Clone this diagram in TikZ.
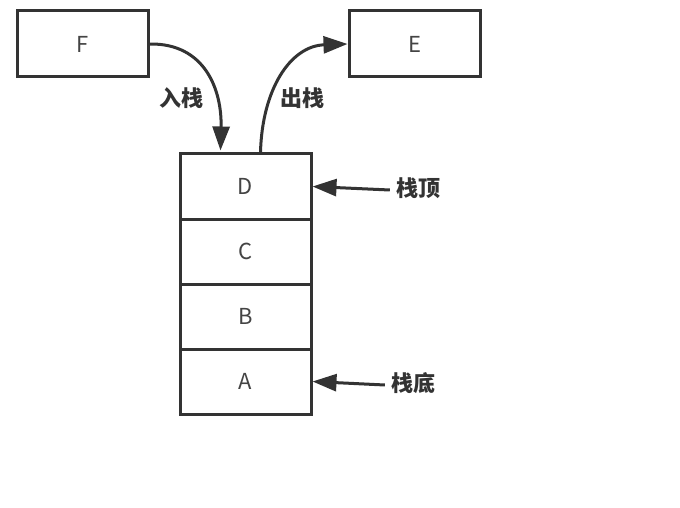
\documentclass[tikz,border=0pt]{standalone}
\usepackage{fontspec}
\setmainfont{Noto Sans CJK SC}
\newfontfamily\cjk{Noto Sans CJK SC}
\usetikzlibrary{arrows.meta,calc}
\definecolor{ink}{HTML}{333333}
\definecolor{txt}{HTML}{444444}
\begin{document}
\begin{tikzpicture}[x=1pt,y=-1pt,
  box/.style={draw=ink,line width=3pt,minimum width=131pt,minimum height=66pt,inner sep=0pt,font=\fontsize{22}{22}\selectfont,text=txt},
  cell/.style={box,minimum height=65pt},
  lab/.style={font=\cjk\bfseries\fontsize{22}{22}\selectfont,text=ink,inner sep=0pt},
  arr/.style={draw=ink,line width=3pt,-{Triangle[length=24pt,width=17pt]}}]
\useasboundingbox (0,0) rectangle (680,508);
\node[box] (F) at (82.5,44) {F};
\node[box] (E) at (414.5,44) {E};
\node[cell] (D) at (245.5,186.5) {D};
\node[cell] (C) at (245.5,251.5) {C};
\node[cell] (B) at (245.5,316.5) {B};
\node[cell] (A) at (245.5,381.5) {A};
\coordinate (in) at ($(D.north west)+(42,-2)$);
\coordinate (out) at ($(D.north west)+(82,0)$);
\draw[arr] (F.east) .. controls (205,43) and (222,90) .. (in);
\draw[arr] (out) .. controls (262,90) and (290,46) .. (E.west);
\node[lab] (lin) at (181,98) {入栈};
\node[lab] (lout) at (302,98) {出栈};
\node[lab] (top) at (418,188) {栈顶};
\node[lab] (bot) at (413,383) {栈底};
\draw[arr] ($(top.west)+(-6,2)$) -- (D.east);
\draw[arr] ($(bot.west)+(-6,2)$) -- (A.east);
\end{tikzpicture}
\end{document}
